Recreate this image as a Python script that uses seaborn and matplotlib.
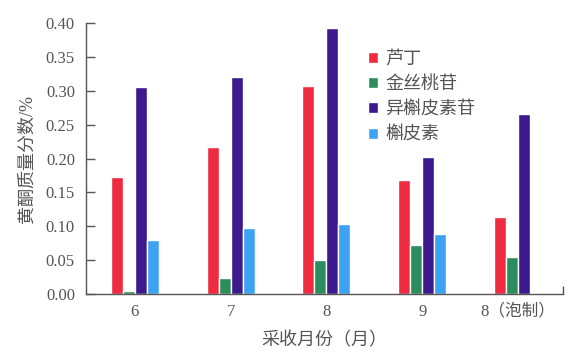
import matplotlib
matplotlib.use("Agg")
import matplotlib.pyplot as plt
import pandas as pd
import seaborn as sns

months = ["6", "7", "8", "9", "8（泡制）"]
series = ["芦丁", "金丝桃苷", "异槲皮素苷", "槲皮素"]
rutin = [0.173, 0.217, 0.307, 0.169, 0.113]
hyperoside = [0.004, 0.024, 0.050, 0.072, 0.054]
isoquercitrin = [0.306, 0.321, 0.393, 0.202, 0.266]
quercetin = [0.080, 0.098, 0.103, 0.089, 0.0]
colors = ["#ee2b3f", "#2c8c5c", "#3c1a8e", "#3ea2f2"]

sns.set_theme(style="ticks")
plt.rcParams["font.family"] = ["Liberation Serif", "Noto Sans CJK SC", "DejaVu Sans"]
TXT = "#555555"

df = pd.DataFrame({
    "month": months * 4,
    "kind": [s for s in series for _ in months],
    "value": rutin + hyperoside + isoquercitrin + quercetin,
})

fig = plt.figure(figsize=(5.71, 3.51), dpi=100)
ax = fig.add_axes([0.1506, 0.1624, 0.8354, 0.7720])

sns.barplot(
    data=df, x="month", y="value", hue="kind",
    order=months, hue_order=series, palette=colors,
    width=0.5, saturation=1, errorbar=None, ax=ax,
)

ax.set_ylim(0, 0.40)
ax.set_xlim(-0.51, 4.47)
ax.set_yticks([i * 0.05 for i in range(9)])
ax.set_yticklabels([f"{i * 0.05:.2f}" for i in range(9)])
ax.set_xticks([4.47], minor=True)

for s in ["top", "right"]:
    ax.spines[s].set_visible(False)
for s in ["left", "bottom"]:
    ax.spines[s].set_color("#555555")
    ax.spines[s].set_linewidth(1.0)

ax.tick_params(axis="y", direction="in", length=6.5, width=1, color="#555555",
               pad=8, labelsize=12, labelcolor=TXT)
ax.tick_params(axis="x", direction="in", length=3, width=1, color="#333333",
               pad=7, labelsize=12, labelcolor=TXT)
ax.tick_params(axis="x", which="minor", direction="in", length=6, width=1,
               color="#555555")

ax.set_xlabel("采收月份（月）", fontsize=13, color=TXT, labelpad=9)
ax.set_ylabel("黄酮质量分数/%", fontsize=13, color=TXT, labelpad=7)

handles, labels = ax.get_legend_handles_labels()
ax.legend(handles, labels, frameon=False, loc="upper left",
          bbox_to_anchor=(0.592, 0.898), borderaxespad=0, borderpad=0,
          handlelength=0.55, handleheight=0.55, handletextpad=0.4,
          labelspacing=0.46, fontsize=13, labelcolor=TXT)

fig.savefig("out.png", dpi=100)
